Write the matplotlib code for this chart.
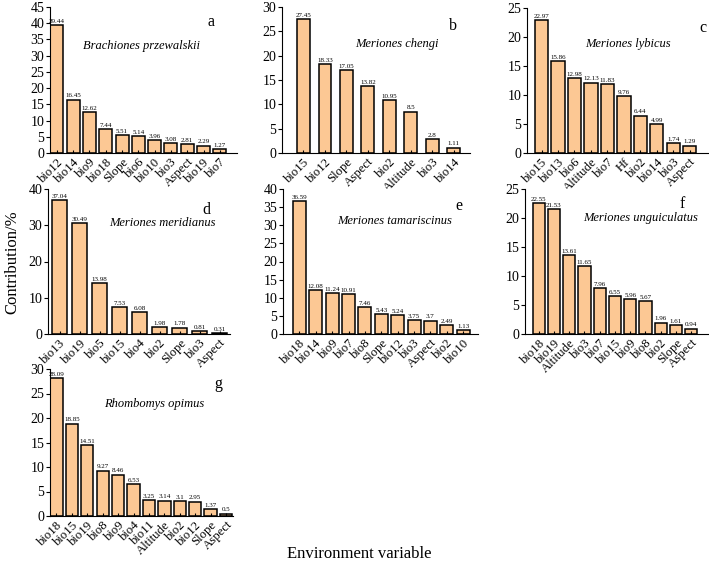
import matplotlib
matplotlib.use('Agg')
from matplotlib import pyplot as plt

plt.rcParams['font.family'] = ['Liberation Serif', 'DejaVu Serif']

# panel data
a_names = ['bio12', 'bio14', 'bio9', 'bio18', 'Slope', 'bio6', 'bio10', 'bio3', 'Aspect', 'bio19', 'bio7']
a_vals = [39.44, 16.45, 12.62, 7.44, 5.51, 5.14, 3.96, 3.08, 2.81, 2.29, 1.27]

b_names = ['bio15', 'bio12', 'Slope', 'Aspect', 'bio2', 'Altitude', 'bio3', 'bio14']
b_vals = [27.45, 18.33, 17.05, 13.82, 10.95, 8.5, 2.8, 1.11]

c_names = ['bio15', 'bio13', 'bio6', 'Altitude', 'bio7', 'Hf', 'bio2', 'bio14', 'bio3', 'Aspect']
c_vals = [22.97, 15.86, 12.98, 12.13, 11.83, 9.76, 6.44, 4.99, 1.74, 1.29]

d_names = ['bio13', 'bio19', 'bio5', 'bio15', 'bio4', 'bio2', 'Slope', 'bio3', 'Aspect']
d_vals = [37.04, 30.49, 13.98, 7.53, 6.08, 1.98, 1.78, 0.81, 0.31]

e_names = ['bio18', 'bio14', 'bio9', 'bio7', 'bio8', 'Slope', 'bio12', 'bio3', 'Aspect', 'bio2', 'bio10']
e_vals = [36.59, 12.08, 11.24, 10.91, 7.46, 5.43, 5.24, 3.75, 3.7, 2.49, 1.13]

f_names = ['bio18', 'bio19', 'Altitude', 'bio3', 'bio7', 'bio15', 'bio9', 'bio8', 'bio2', 'Slope', 'Aspect']
f_vals = [22.55, 21.53, 13.61, 11.65, 7.96, 6.55, 5.96, 5.67, 1.96, 1.61, 0.94]

g_names = ['bio18', 'bio15', 'bio19', 'bio8', 'bio9', 'bio4', 'bio11', 'Altitude', 'bio2', 'bio12', 'Slope', 'Aspect']
g_vals = [28.09, 18.85, 14.51, 9.27, 8.46, 6.53, 3.25, 3.14, 3.1, 2.95, 1.37, 0.5]

species = ['Brachiones przewalskii', 'Meriones chengi', 'Meriones lybicus',
           'Meriones meridianus', 'Meriones tamariscinus', 'Meriones unguiculatus',
           'Rhombomys opimus']
letters = ['a', 'b', 'c', 'd', 'e', 'f', 'g']

W, H = 709, 564
fig = plt.figure(figsize=(W / 100, H / 100), dpi=100)


def px_axes(left, right, top, bottom):
    return fig.add_axes([left / W, 1 - bottom / H, (right - left) / W, (bottom - top) / H])


# layout: (box px, xlim, ymax, ystep, bar width, species pos, letter pos)
panels = [
    (a_names, a_vals, (50, 237, 7, 153), (-0.42, 11.05), 45, 5, 0.8, (0.49, 0.73), (0.86, 0.90)),
    (b_names, b_vals, (282, 470, 7, 153), (-1.0, 7.75), 30, 5, 0.6, (0.61, 0.75), (0.91, 0.87)),
    (c_names, c_vals, (527, 708, 8, 153), (-0.88, 10.1), 25, 5, 0.8, (0.555, 0.75), (0.97, 0.86)),
    (d_names, d_vals, (48, 230, 189, 334), (-0.58, 8.5), 40, 10, 0.75, (0.63, 0.765), (0.87, 0.855)),
    (e_names, e_vals, (283, 478, 189, 334), (-1.0, 10.9), 40, 5, 0.8, (0.57, 0.78), (0.90, 0.88)),
    (f_names, f_vals, (525, 708, 189, 334), (-0.9, 11.1), 25, 5, 0.8, (0.63, 0.80), (0.86, 0.895)),
    (g_names, g_vals, (50, 233, 369, 516), (-0.42, 11.45), 30, 5, 0.8, (0.57, 0.76), (0.92, 0.90)),
]

for i, (names, vals, box, xl, ymax, ystep, bw, sp_pos, let_pos) in enumerate(panels):
    ax = px_axes(*box)
    x = list(range(len(names)))
    ax.bar(x, vals, width=bw, color='#FCC894', edgecolor='black', linewidth=1.1)
    for xi, v in zip(x, vals):
        ax.text(xi, v + ymax * 0.008, f'{v:g}', ha='center', va='bottom', fontsize=5)
    ax.set_xlim(*xl)
    ax.set_ylim(0, ymax)
    ax.set_yticks(range(0, ymax + 1, ystep))
    ax.set_xticks(x)
    ax.set_xticklabels(names, rotation=45, ha='right', rotation_mode='anchor', fontsize=9.2)
    ax.tick_params(axis='x', direction='in', length=2, pad=2)
    ax.tick_params(axis='y', direction='out', length=3, labelsize=10, pad=1)
    ax.spines['top'].set_visible(False)
    ax.spines['right'].set_visible(False)
    ax.text(sp_pos[0], sp_pos[1], species[i], transform=ax.transAxes, ha='center',
            va='center', fontsize=9, style='italic')
    ax.text(let_pos[0], let_pos[1], letters[i], transform=ax.transAxes, ha='center',
            va='center', fontsize=11.5)

fig.text(12 / W, 1 - 262 / H, 'Contribution/%', rotation=90, ha='center', va='center', fontsize=12)
fig.text(359 / W, 1 - 554 / H, 'Environment variable', ha='center', va='center', fontsize=12)

fig.savefig('out.png', dpi=100)
